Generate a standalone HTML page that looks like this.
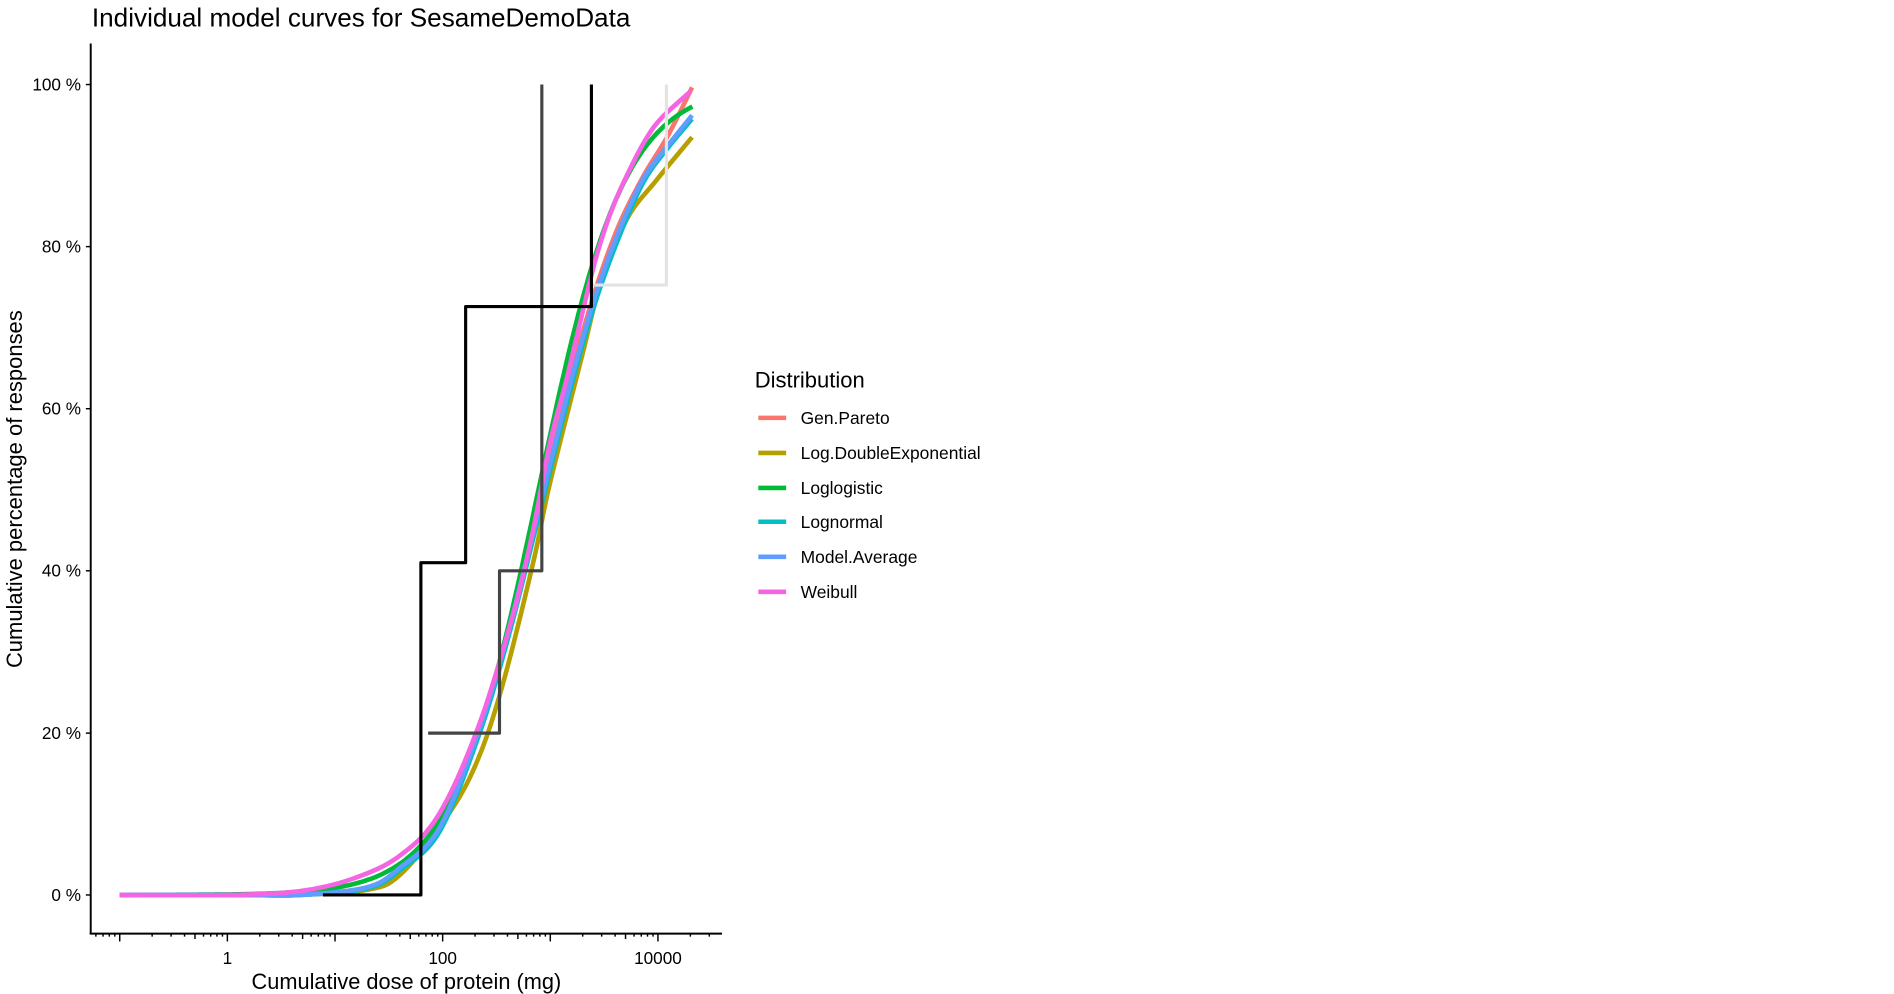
<!DOCTYPE html>
<html><head><meta charset="utf-8"><style>
html,body{margin:0;padding:0;background:#fff;}
svg{display:block;font-family:"Liberation Sans",Arial,sans-serif;}
</style></head><body>
<svg id="s" width="1894" height="994" viewBox="0 0 1566 823" preserveAspectRatio="none" xmlns="http://www.w3.org/2000/svg">
<rect width="1566" height="823" fill="#fff"/>
<text x="76" y="22" font-size="21.6" fill="#000">Individual model curves for SesameDemoData</text>
<g id="plot"></g>
<line x1="75" y1="36" x2="75" y2="773.5" stroke="#000" stroke-width="1.6"/>
<line x1="74.2" y1="773" x2="597" y2="773" stroke="#000" stroke-width="1.6"/>
<g font-size="14.2" fill="#000" text-anchor="end">
<text x="67" y="746">0 %</text>
<text x="67" y="612">20 %</text>
<text x="67" y="477.5">40 %</text>
<text x="67" y="343.3">60 %</text>
<text x="67" y="209">80 %</text>
<text x="67" y="75">100 %</text>
</g>
<g stroke="#000" stroke-width="1.2">
<line x1="71" y1="741" x2="75" y2="741"/><line x1="71" y1="607" x2="75" y2="607"/>
<line x1="71" y1="472.6" x2="75" y2="472.6"/><line x1="71" y1="338.4" x2="75" y2="338.4"/>
<line x1="71" y1="204.2" x2="75" y2="204.2"/><line x1="71" y1="70" x2="75" y2="70"/>
</g>
<g id="xt" stroke="#000" stroke-width="1.2"></g>
<g font-size="14.2" fill="#000" text-anchor="middle">
<text x="188" y="798">1</text>
<text x="366" y="798">100</text>
<text x="544" y="798">10000</text>
</g>
<text x="336" y="819" font-size="18" text-anchor="middle">Cumulative dose of protein (mg)</text>
<text transform="translate(18,405) rotate(-90)" font-size="18.2" text-anchor="middle">Cumulative percentage of responses</text>
<text x="624" y="321" font-size="18.2">Distribution</text>
<g stroke-width="3.8">
<line x1="627" y1="346" x2="650" y2="346" stroke="#F8766D"/>
<line x1="627" y1="375" x2="650" y2="375" stroke="#B79F00"/>
<line x1="627" y1="404" x2="650" y2="404" stroke="#00BA38"/>
<line x1="627" y1="432" x2="650" y2="432" stroke="#00BFC4"/>
<line x1="627" y1="461" x2="650" y2="461" stroke="#619CFF"/>
<line x1="627" y1="490" x2="650" y2="490" stroke="#F564E3"/>
</g>
<g font-size="14.4" fill="#000">
<text x="662" y="351">Gen.Pareto</text>
<text x="662" y="380">Log.DoubleExponential</text>
<text x="662" y="409">Loglogistic</text>
<text x="662" y="437">Lognormal</text>
<text x="662" y="466">Model.Average</text>
<text x="662" y="495">Weibull</text>
</g>
</svg>
<script>
const NS="http://www.w3.org/2000/svg";
const X=L=>188+89*L;
const plot=document.getElementById('plot');
function path(d,c,w){const p=document.createElementNS(NS,'path');p.setAttribute('d',d);p.setAttribute('stroke',c);p.setAttribute('stroke-width',w);p.setAttribute('fill','none');p.setAttribute('stroke-linejoin','round');plot.appendChild(p);}
function fix(a){return a.map(p=>[p[0]<=99?p[0]:+(p[0]*1.0038).toFixed(1),Math.min(741,+(p[1]*1.0052).toFixed(1))]);}
function smooth(a){a=fix(a);let d='M'+a[0][0]+','+a[0][1];for(let i=0;i<a.length-1;i++){const p0=a[Math.max(0,i-1)],p1=a[i],p2=a[i+1],p3=a[Math.min(a.length-1,i+2)];const c1=[p1[0]+(p2[0]-p0[0])/6,p1[1]+(p2[1]-p0[1])/6],c2=[p2[0]-(p3[0]-p1[0])/6,p2[1]-(p3[1]-p1[1])/6];d+='C'+c1.map(v=>v.toFixed(1))+' '+c2.map(v=>v.toFixed(1))+' '+p2[0]+','+p2[1];}return d;}
function fpath(f){let d='';for(let L=-1;L<=4.331;L+=0.02){d+=(d?'L':'M')+X(L).toFixed(1)+','+(741-6.71*100*f(L)).toFixed(1);}return d;}
const W=3.8;
path(smooth([[99,741],[200,740],[247,738],[302,731],[329,716],[362,682],[395,604],[420,518],[445,415],[470,310],[490,240],[510,185],[530,145],[550,112],[570,72]]),'#F8766D',W);
path(smooth([[99,741],[200,740],[247,739],[302,733],[329,721],[365,677],[390,634],[412,571],[439,464],[453,398],[480,291],[494,236],[516,181],[541,148],[570,113]]),'#B79F00',W);
path(fpath(L=>1/(1+Math.exp(-(L-2.89)/0.40))),'#00BA38',W);
path(smooth([[99,741],[200,740],[247,738],[302,732],[329,717],[362,685],[395,604],[420,520],[445,420],[470,320],[490,250],[510,195],[530,150],[550,122],[570,98]]),'#00BFC4',W);
path(smooth([[99,741],[200,740],[247,737.5],[302,731],[329,715],[362,682],[395,600],[420,515],[445,415],[470,315],[490,245],[510,190],[530,147],[550,120],[570,95]]),'#619CFF',W);
path(smooth([[99,741],[188,739.5],[247,734],[290,724],[329,705],[362,670],[395,596],[423,505],[439,437],[453,365],[466,315],[478,265],[491,212],[505,170],[520,137],[533,113],[545,97],[569,75]]),'#F564E3',W);
path('M489,236L551,236L551,70','#E3E3E3',2.6);
path('M354,607L413,607L413,472.6L448,472.6L448,70','#444',2.6);
path('M267,741L348,741L348,465.9L385,465.9L385,253.8L489,253.8L489,70','#000',2.6);
const xt=document.getElementById('xt');
for(let e=-2;e<=4;e++){for(let m=1;m<=9;m++){const L=e+Math.log10(m);const x=X(L);if(x<76||x>597)continue;const len=m==1?6.5:(m==5?4.5:2.5);const l=document.createElementNS(NS,'line');l.setAttribute('x1',x);l.setAttribute('x2',x);l.setAttribute('y1',773);l.setAttribute('y2',773+len);xt.appendChild(l);}}
</script>
</body></html>
